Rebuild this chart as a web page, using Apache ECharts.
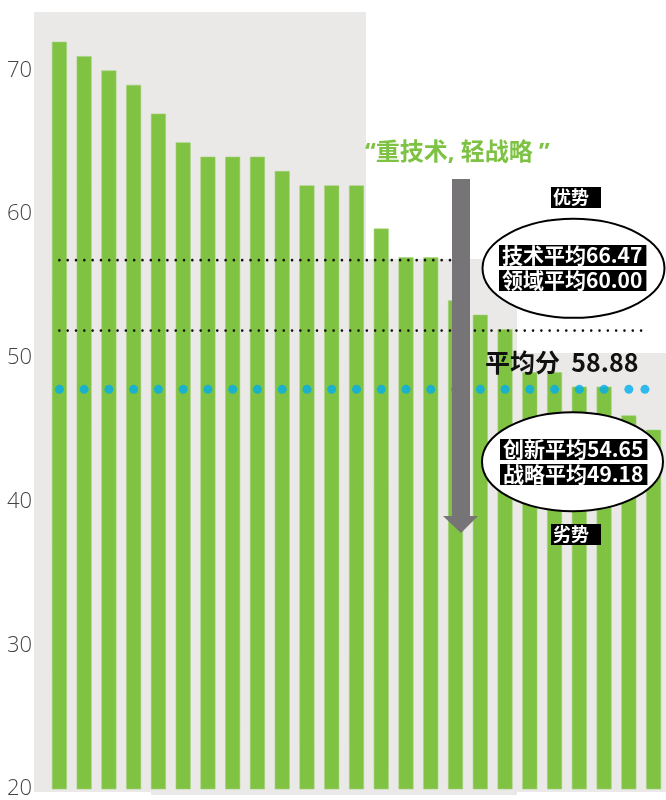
<!DOCTYPE html>
<html>
<head>
<meta charset="utf-8">
<script src="https://cdn.jsdelivr.net/npm/echarts@6/dist/echarts.min.js"></script>
<style>
html,body{margin:0;padding:0;background:#fff;}
#chart{width:666px;height:800px;}
</style>
</head>
<body>
<div id="chart"></div>
<script>
// ---- data ----
var categories = ['1','2','3','4','5','6','7','8','9','10','11','12','13','14','15','16','17','18','19','20','21','22','23','24','25'];
var scores = [72,71,70,69,67,65,64,64,64,63,62,62,62,59,57,57,54,53,52,49,49,48,48,46,45];
var yTicks = [20,30,40,50,60,70];
var upperDotted = {from: 0, to: 16.76, value: 56.8};
var lowerDotted = {from: 0, to: 23.65, value: 51.9};
var blueDotPos = [0,1,2,3,4,5,6,7,8,9,10,11,12,13,14,15,16,17,18,19,20,21,22,23,23.65];
var blueDotValue = 47.81;
var titleText = '\u201C重技术, 轻战略 \u201D';
var strongLabel = '优势';
var weakLabel = '劣势';
var strongLines = ['技术平均66.47', '领域平均60.00'];
var weakLines = ['创新平均54.65', '战略平均49.18'];
var avgText = '平均分  58.88';

var GREEN = '#80c241';
var GREY_BG = '#ebe9e7';
var CJK = '"Noto Sans CJK SC", "Noto Sans", sans-serif';
var LATIN_CJK = '"Noto Sans", "Noto Sans CJK SC", sans-serif';

var chart = echarts.init(document.getElementById('chart'));

function blackBox(text, x, y) {
  return {
    type: 'text', z: 120, x: x, y: y,
    style: {
      text: text, fill: '#fff', backgroundColor: '#000',
      font: 'bold 21px ' + CJK, padding: [0, 4, 0, 3], lineHeight: 21
    }
  };
}

var option = {
  animation: false,
  backgroundColor: '#fff',
  grid: {left: 47, width: 620, top: 13, bottom: 9, containLabel: false},
  xAxis: [
    {type: 'category', data: categories, show: false, boundaryGap: true},
    {type: 'value', min: -0.5, max: 24.5, show: false}
  ],
  yAxis: {
    type: 'value', min: 20, max: 74, interval: 10,
    axisLine: {show: false}, axisTick: {show: false}, splitLine: {show: false},
    axisLabel: {
      margin: 15, color: '#444', fontSize: 22, fontWeight: 300, fontFamily: '"Open Sans", sans-serif',
      showMaxLabel: false,
      formatter: function (v) { return yTicks.indexOf(v) >= 0 ? String(v) : ''; }
    }
  },
  graphic: [
    {type: 'rect', z: 0, silent: true, shape: {x: 151, y: 259, width: 366, height: 536}, style: {fill: GREY_BG}},
    {type: 'rect', z: 0, silent: true, shape: {x: 517, y: 353, width: 149, height: 439}, style: {fill: GREY_BG}},
    {type: 'rect', z: 0, silent: true, shape: {x: 34, y: 12, width: 332, height: 780}, style: {fill: GREY_BG}},
    // arrow
    {type: 'polygon', z: 100, silent: true,
      shape: {points: [[452,179],[470,179],[470,516],[478,516],[461,533],[443,516],[452,516]]},
      style: {fill: '#767476'}},
    // title
    {type: 'text', z: 120, x: 365, y: 153,
      style: {text: titleText, fill: '#7dc243', font: 'bold 24px ' + LATIN_CJK, verticalAlign: 'middle'}},
    // strong label
    {type: 'text', z: 120, x: 551, y: 187,
      style: {text: strongLabel, fill: '#fff', backgroundColor: '#000', font: 'bold 18px ' + CJK,
        padding: [1, 12, 1, 2], lineHeight: 19}},
    // ellipse 1
    {type: 'ellipse', z: 110, shape: {cx: 573.5, cy: 268.3, rx: 91, ry: 49.5},
      style: {fill: '#fff', stroke: '#000', lineWidth: 2}},
    blackBox(strongLines[0], 499, 245),
    blackBox(strongLines[1], 499, 270),
    // avg
    {type: 'text', z: 120, x: 485, y: 362,
      style: {text: avgText, fill: '#111', font: 'bold 25px ' + CJK, verticalAlign: 'middle'}},
    // ellipse 2
    {type: 'ellipse', z: 110, shape: {cx: 572.5, cy: 461.7, rx: 90.5, ry: 49.5},
      style: {fill: '#fff', stroke: '#000', lineWidth: 2}},
    blackBox(weakLines[0], 500, 439),
    blackBox(weakLines[1], 500, 464),
    {type: 'text', z: 120, x: 551, y: 524,
      style: {text: weakLabel, fill: '#fff', backgroundColor: '#000', font: 'bold 18px ' + CJK,
        padding: [1, 12, 1, 2], lineHeight: 19}}
  ],
  series: [
    {
      type: 'bar', data: scores, barWidth: 15,
      itemStyle: {color: GREEN, borderColor: '#a3d27e', borderWidth: 0.6},
      silent: true
    },
    {
      type: 'line', xAxisIndex: 1, symbol: 'none', silent: true,
      data: [[upperDotted.from, upperDotted.value], [upperDotted.to, upperDotted.value]],
      lineStyle: {color: '#111', width: 2.6, type: [0.01, 8.3], cap: 'round'}
    },
    {
      type: 'line', xAxisIndex: 1, symbol: 'none', silent: true,
      data: [[lowerDotted.from, lowerDotted.value], [lowerDotted.to, lowerDotted.value]],
      lineStyle: {color: '#111', width: 2.6, type: [0.01, 8.3], cap: 'round'}
    },
    {
      type: 'scatter', xAxisIndex: 1, symbol: 'circle', symbolSize: 9, silent: true,
      data: blueDotPos.map(function (x) { return [x, blueDotValue]; }),
      itemStyle: {color: '#00adef'}
    }
  ]
};
chart.setOption(option);
</script>
</body>
</html>
